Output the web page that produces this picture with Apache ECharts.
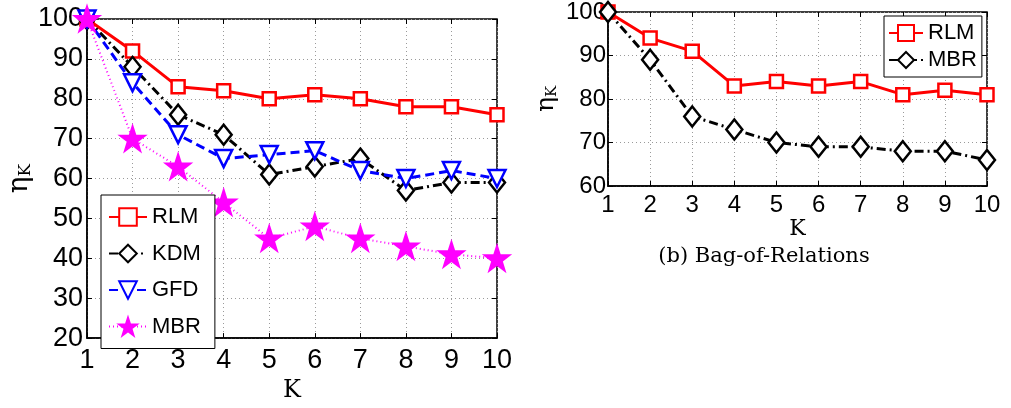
<!DOCTYPE html>
<html><head><meta charset="utf-8">
<script src="https://cdn.jsdelivr.net/npm/echarts@6/dist/echarts.min.js"></script>
<style>html,body{margin:0;padding:0;background:#fff}#c{width:1011px;height:408px}</style>
</head><body><div id="c"></div>
<script>
const K = [1,2,3,4,5,6,7,8,9,10];
const leftYTicks = [20,30,40,50,60,70,80,90,100];
const rightYTicks = [60,70,80,90,100];
// (a) left panel
const leftRLM = [100,92,83,82,80,81,80,78,78,76];
const leftKDM = [100,88,76,71,61,63,65,57,59,59];
const leftGFD = [100,84,71,65,66,67,62,60,62,60];
const leftMBR = [100,70,63,54,45,48,45,43,41,40];
// (b) Bag-of-Relations
const rightRLM = [100,94,91,83,84,83,84,81,82,81];
const rightMBR = [100,89,76,73,70,69,69,68,68,66];
const caption = '(b) Bag-of-Relations';

const pts = v => K.map((k,i)=>[k,v[i]]);
const star = 'path://M50,0 L61.8,35.5 L99,35.5 L69,57.5 L80.5,93 L50,71 L19.5,93 L31,57.5 L1,35.5 L38.2,35.5 Z';
const serif = 'DejaVu Serif';
const sans = 'Liberation Sans';
const grid = {show:true, borderColor:'#000', borderWidth:1.5, backgroundColor:'#fff'};
const split = {show:true, lineStyle:{color:'#9a9a9a', type:[1,3], width:1}};

function xAx(gi, fs, gapName, nameSize, bottomMargin){
  return [{type:'value', gridIndex:gi, min:1, max:10, interval:1, position:'bottom',
    axisLine:{show:true, lineStyle:{color:'#000', width:1.5}},
    axisTick:{show:true, inside:true, length:5, lineStyle:{color:'#000'}},
    axisLabel:{fontFamily:sans, fontSize:fs, color:'#000', margin:bottomMargin},
    splitLine:split,
    name:'K', nameLocation:'middle', nameGap:gapName,
    nameTextStyle:{fontFamily:serif, fontSize:nameSize, color:'#000'}},
   {type:'value', gridIndex:gi, min:1, max:10, interval:1, position:'top',
    axisLine:{show:false}, axisTick:{show:true, inside:true, length:5, lineStyle:{color:'#000'}},
    axisLabel:{show:false}, splitLine:{show:false}}];
}
function yAx(gi, mn, fs, gapName, nameSize, margin){
  return [{type:'value', gridIndex:gi, min:mn, max:100, interval:10, position:'left',
    axisLine:{show:true, lineStyle:{color:'#000', width:1.5}},
    axisTick:{show:true, inside:true, length:5, lineStyle:{color:'#000'}},
    axisLabel:{fontFamily:sans, fontSize:fs, color:'#000', margin:margin},
    splitLine:split,
    name:'{a|η}{b|K}', nameLocation:'middle', nameGap:gapName,
    nameTextStyle:{rich:{a:{fontFamily:serif, fontSize:nameSize, color:'#000'},
                         b:{fontFamily:serif, fontSize:nameSize*0.6, color:'#000', padding:[nameSize*0.45,0,0,0]}}}},
   {type:'value', gridIndex:gi, min:mn, max:100, interval:10, position:'right',
    axisLine:{show:false}, axisTick:{show:true, inside:true, length:5, lineStyle:{color:'#000'}},
    axisLabel:{show:false}, splitLine:{show:false}}];
}

const xa = xAx(0, 27, 30, 24, 9).concat(xAx(1, 24, 24, 22, 7));
const ya = yAx(0, 20, 27, 52, 28, 4).concat(yAx(1, 60, 24, 48, 25, 2));

function s(name, data, xi, yi, color, dash, width, symbol, size, rot){
  return {type:'line', name, data:pts(data), xAxisIndex:xi, yAxisIndex:yi,
    symbol, symbolSize:size, symbolRotate:rot||0, showSymbol:true,
    lineStyle:{color, width, type:dash},
    itemStyle:{color: symbol===star ? color : '#fff', borderColor:color, borderWidth:2.5},
    emphasis:{disabled:true}, animation:false, z: 3};
}

const chart = echarts.init(document.getElementById('c'));
chart.setOption({
  backgroundColor:'#fff',
  animation:false,
  grid:[Object.assign({left:87, top:19, width:410, height:334}, grid),
        Object.assign({left:608, top:12, width:379, height:174}, grid)],
  xAxis: xa,
  yAxis: ya,
  legend:[
    {data:['RLM','KDM','GFD','MBR'], orient:'vertical', left:101, top:195,
     itemWidth:38, itemHeight:22, itemGap:14.5, padding:[11,14,11,7],
     borderColor:'#000', borderWidth:1, backgroundColor:'#fff',
     textStyle:{fontFamily:sans, fontSize:22, color:'#000', lineHeight:22},
     selectedMode:false},
    {data:['RLM ','MBR '], orient:'vertical', left:884, top:16,
     itemWidth:34, itemHeight:20, itemGap:5, padding:[6,5,6,4],
     borderColor:'#000', borderWidth:1, backgroundColor:'#fff',
     formatter: n => n.trim(),
     textStyle:{fontFamily:sans, fontSize:22, color:'#000', lineHeight:22},
     selectedMode:false}
  ],
  series:[
    s('RLM', leftRLM, 0, 0, '#ff0000', 'solid', 3, 'rect', 13),
    s('KDM', leftKDM, 0, 0, '#000000', [9,4,2,4], 3, 'diamond', [16,20]),
    s('GFD', leftGFD, 0, 0, '#0000ff', [9,5], 3, 'triangle', 17, 180),
    s('MBR', leftMBR, 0, 0, '#ff00ff', [1,3], 2, star, 23),
    s('RLM ', rightRLM, 2, 2, '#ff0000', 'solid', 3, 'rect', 13),
    s('MBR ', rightMBR, 2, 2, '#000000', [9,4,2,4], 3, 'diamond', [16,20])
  ],
  graphic:[{type:'text', x:764, y:257, style:{text:caption, align:'center', verticalAlign:'middle',
    font:'21px "DejaVu Serif"', fill:'#000'}}]
});
</script></body></html>
